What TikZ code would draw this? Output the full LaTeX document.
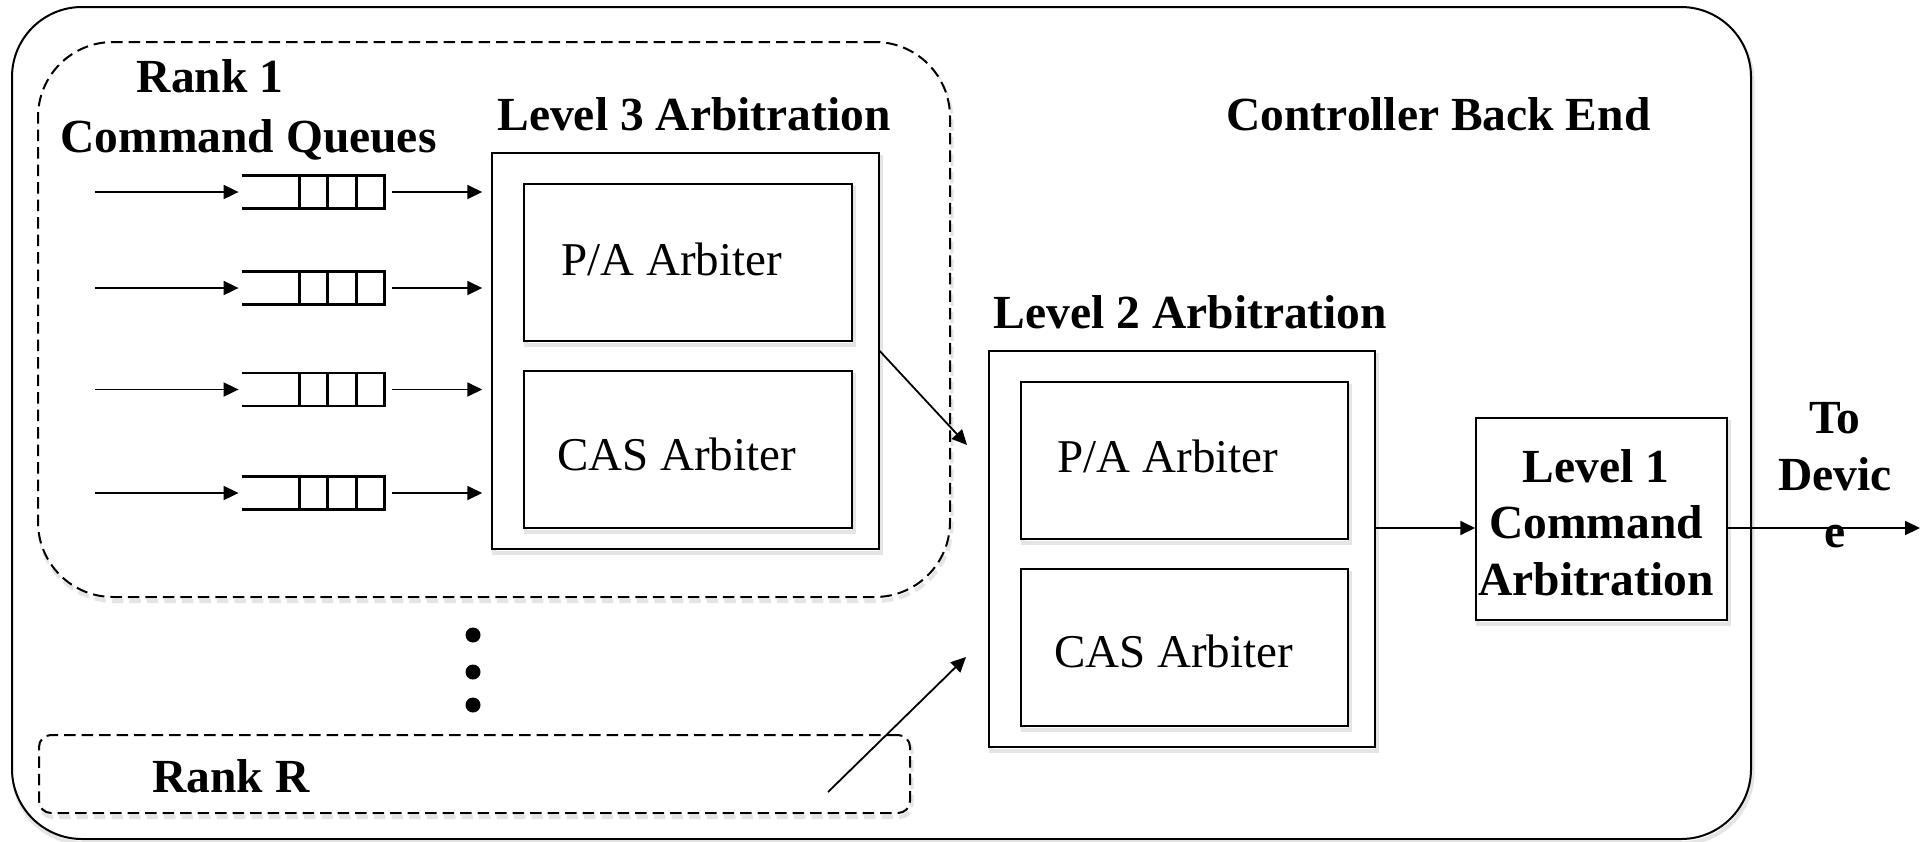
\documentclass[tikz,border=0pt]{standalone}
\usepackage{fontspec}
\setmainfont{Liberation Serif}
\usetikzlibrary{arrows.meta}

\begin{document}
\begin{tikzpicture}[x=0.5pt,y=-0.5pt,
  lbl/.style={font=\bfseries\fontsize{23.75pt}{28.5pt}\selectfont, inner sep=0pt, anchor=base},
  txt/.style={font=\fontsize{23.5pt}{28pt}\selectfont, inner sep=0pt, anchor=base},
  shd/.style={preaction={draw=black!10, line width=2pt, solid,
      transform canvas={xshift=0.75pt,yshift=-2pt}}},
  dshd/.style={preaction={draw=black!10, line width=2pt, dash pattern=on 5.75pt off 3pt,
      transform canvas={xshift=0.75pt,yshift=-2pt}}},
  box/.style={draw, line width=0.75pt, fill=white, inner sep=0pt, shd},
  outerbox/.style={draw, line width=1pt, fill=white, inner sep=0pt, rounded corners=35pt, shd},
  rankbox/.style={draw, line width=1pt, fill=white, inner sep=0pt,
      dash pattern=on 5.75pt off 3pt, dshd},
  qnode/.style={inner sep=0pt, minimum width=71pt, minimum height=16pt},
  qline/.style={line width=1.25pt},
  arr/.style={line width=0.9pt, -{Triangle[length=7.5pt,width=7pt]}},
  dot/.style={circle, fill, inner sep=0pt, minimum size=7.5pt}
]
\useasboundingbox (0,0) rectangle (1920,841);

% enclosing controller back end
\node[outerbox, minimum width=869.5pt, minimum height=416pt] (backend) at (881.5,423) {};
\node[lbl] (cbe) at (1438.5,130) {Controller Back End};

% rank groups
\node[rankbox, rounded corners=37.5pt, minimum width=456pt, minimum height=277.5pt] (rank1) at (494,319.5) {};
\node[rankbox, rounded corners=6pt, minimum width=435.5pt, minimum height=39pt] (rankR) at (474.5,774) {};
\node[lbl] (rank1t) at (210,92) {Rank 1};
\node[lbl] (cmdq) at (248.5,152) {Command Queues};
\node[lbl] (rankRt) at (231,792) {Rank R};

% level 3 arbitration
\node[lbl] (l3title) at (694,130) {Level 3 Arbitration};
\node[box, minimum width=193.5pt, minimum height=198pt] (l3) at (685.5,351) {};
\node[box, minimum width=164pt, minimum height=78.5pt] (l3pa) at (688,262.5) {};
\node[box, minimum width=164pt, minimum height=78.5pt] (l3cas) at (688,449.5) {};
\node[txt] (l3pat) at (671.5,275) {P/A Arbiter};
\node[txt] (l3cast) at (676.5,470) {CAS Arbiter};

% level 2 arbitration
\node[lbl] (l2title) at (1190.5,328) {Level 2 Arbitration};
\node[box, minimum width=193pt, minimum height=198pt] (l2) at (1182,549) {};
\node[box, minimum width=163.5pt, minimum height=78.5pt] (l2pa) at (1184.5,460.5) {};
\node[box, minimum width=163.5pt, minimum height=78.5pt] (l2cas) at (1184.5,647.5) {};
\node[txt] (l2pat) at (1168,472) {P/A Arbiter};
\node[txt] (l2cast) at (1173.5,667) {CAS Arbiter};

% level 1 arbitration (base anchor sits on the last line)
\node[box, minimum width=125.5pt, minimum height=101pt] (l1) at (1601.5,519) {};
\node[lbl, align=center, font=\bfseries\fontsize{23.75pt}{28.25pt}\selectfont] (l1t) at (1596,595) {Level 1\\Command\\Arbitration};

% command queues
\foreach \i/\y in {1/192,2/288,3/389.5,4/493}{
  \node[qnode] (q\i) at (313,\y) {};
  \coordinate (in\i) at (95,\y);
  \draw[qline] (q\i.north west) -- (q\i.north east) -- (q\i.south east) -- (q\i.south west);
  \foreach \d in {29,43,57.5}{
    \draw[qline] ([xshift=\d pt]q\i.north west) -- ([xshift=\d pt]q\i.south west);
  }
  \draw[arr, shorten >=1.5pt] (in\i) -- (q\i.west);
  \draw[arr, shorten <=4pt, shorten >=4.5pt] (q\i.east) -- (q\i.east -| l3.west);
}

% more ranks
\node[dot] (dot1) at (473,635) {};
\node[dot] (dot2) at (473,672) {};
\node[dot] (dot3) at (473,705) {};

% connections between levels
\coordinate (l2in) at (967,445);
\coordinate (rRout) at (828,792);
\coordinate (l2inR) at (966,657);
\coordinate (busy) at (0,528);
\coordinate (device) at (1920,528);
\draw[arr] (l3.east) -- (l2in);
\draw[arr] (rRout) -- (l2inR);
\draw[arr] (l2.east |- busy) -- (l1.west |- busy);
\draw[arr] (l1.east |- busy) -- (device);
\node[lbl, align=center] (todev) at (1835,547) {To\\Devic\\e};
\end{tikzpicture}
\end{document}
